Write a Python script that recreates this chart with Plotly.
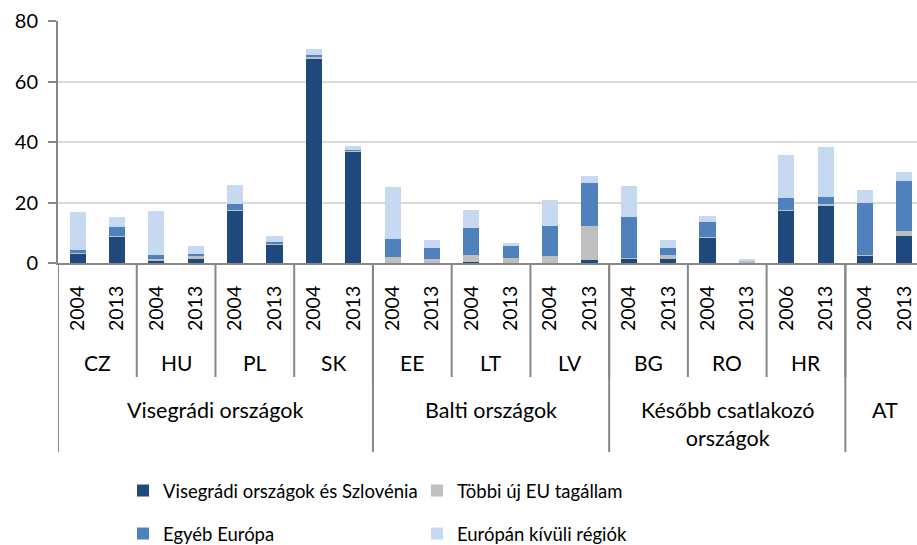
import plotly.graph_objects as go

# ---- data ----
years = ["2004", "2013", "2004", "2013", "2004", "2013", "2004", "2013",
         "2004", "2013", "2004", "2013", "2004", "2013",
         "2004", "2013", "2004", "2013", "2006", "2013",
         "2004", "2013"]
countries = ["CZ", "HU", "PL", "SK", "EE", "LT", "LV", "BG", "RO", "HR", ""]
groups = ["Visegrádi országok", "Balti országok", "Később csatlakozó<br>országok", "AT"]
group_sizes = [4, 3, 3, 1]  # number of countries per group

series_names = ["Visegrádi országok és Szlovénia", "Többi új EU tagállam",
                "Egyéb Európa", "Európán kívüli régiók"]
visegradi = [3.1, 8.9, 0.55, 1.2, 17.4, 5.8, 67.4, 36.9,
             0.0, 0.0, 0.45, 0.0, 0.0, 1.0,
             1.5, 1.3, 8.4, 0.2, 17.2, 19.0,
             2.6, 8.8]
tobbi_eu = [0.1, 0.1, 0.9, 1.0, 0.1, 0.7, 0.7, 0.3,
            1.9, 1.2, 2.1, 1.5, 2.4, 11.3,
            0.2, 1.3, 0.1, 0.5, 0.4, 0.5,
            0.1, 1.9]
egyeb_europa = [1.1, 3.0, 1.35, 0.9, 1.85, 0.5, 0.8, 0.1,
                5.9, 3.6, 9.1, 4.0, 9.8, 14.3,
                13.5, 2.2, 5.0, 0.2, 4.0, 2.4,
                17.2, 16.3]
europan_kivul = [12.4, 3.1, 14.5, 2.6, 6.3, 2.0, 1.8, 1.5,
                 17.4, 2.8, 5.8, 1.2, 8.7, 2.1,
                 10.3, 2.9, 2.2, 0.5, 14.2, 16.5,
                 4.3, 3.0]
y_ticks = [0, 20, 40, 60, 80]

colors = ["#1F497D", "#BFBFBF", "#4F81BD", "#C6D9F1"]
FONT = "Lato, Carlito, Calibri, 'Open Sans', sans-serif"

# category keys (one per bar)
cats = [f"{countries[i // 2]}_{i}" for i in range(len(years))]

fig = go.Figure()
all_series = [visegradi, tobbi_eu, egyeb_europa, europan_kivul]
legend_ids = ["legend", "legend", "legend2", "legend2"]
for name, vals, col, lg in zip(series_names, all_series, colors, legend_ids):
    fig.add_trace(go.Bar(x=cats, y=vals, name=name, marker=dict(color=col, line=dict(width=0)),
                         width=0.41, legend=lg))

# pixel geometry helpers
W, H = 917, 545
ml, mr, mt, mb = 58, 0, 21, 282
ph = H - mt - mb


def py(pix):  # pixel y -> paper y
    return (H - mb - pix) / ph


axis_col = "#868686"
shapes = []
# country dividers
for k in range(1, len(countries)):
    xb = 2 * k - 0.5
    shapes.append(dict(type="line", xref="x", yref="paper", x0=xb, x1=xb,
                       y0=0, y1=py(377), line=dict(color=axis_col, width=2)))
# group dividers (incl. left edge)
acc = 0
bounds = [-0.5]
for s in group_sizes[:-1]:
    acc += s * 2
    bounds.append(acc - 0.5)
for xb in bounds:
    shapes.append(dict(type="line", xref="x", yref="paper", x0=xb, x1=xb,
                       y0=0, y1=py(452), line=dict(color=axis_col, width=2)))

annotations = []
for k, c in enumerate(countries):
    if c:
        annotations.append(dict(x=2 * k + 0.5, y=py(362), xref="x", yref="paper", text=c,
                                showarrow=False, xanchor="center", yanchor="middle",
                                font=dict(family=FONT, size=21, color="black")))
start = 0
for g, s in zip(groups, group_sizes):
    center = start + s - 0.5
    annotations.append(dict(x=center, y=py(395), xref="x", yref="paper", text=g,
                            showarrow=False, xanchor="center", yanchor="top",
                            font=dict(family=FONT, size=21.5, color="black")))
    start += 2 * s

leg_x = (123 - ml) / (W - ml - mr)
fig.update_layout(
    width=W, height=H,
    margin=dict(l=ml, r=mr, t=mt, b=mb, pad=0, autoexpand=False),
    barmode="stack",
    plot_bgcolor="white", paper_bgcolor="white",
    font=dict(family=FONT, size=20, color="black"),
    shapes=shapes, annotations=annotations,
    legend=dict(orientation="h", x=leg_x, xanchor="left",
                y=py(491), yanchor="middle", entrywidth=249, entrywidthmode="pixels",
                font=dict(family=FONT, size=18.5, color="black"), traceorder="normal",
                bgcolor="rgba(0,0,0,0)"),
    legend2=dict(orientation="h", x=leg_x, xanchor="left",
                 y=py(534), yanchor="middle", entrywidth=249, entrywidthmode="pixels",
                 font=dict(family=FONT, size=18.5, color="black"), traceorder="normal",
                 bgcolor="rgba(0,0,0,0)"),
    bargap=0.59,
)
fig.update_xaxes(type="category", categoryorder="array", categoryarray=cats,
                 tickmode="array", tickvals=cats, ticktext=years, tickangle=-90,
                 range=[-0.5, 21.32], showline=True, linecolor=axis_col, linewidth=2,
                 ticks="", showgrid=False, ticklabelstandoff=13,
                 tickfont=dict(family=FONT, size=19.5, color="black"))
fig.update_yaxes(range=[0, 80], tickvals=y_ticks, showgrid=True, gridcolor="#D9D9D9",
                 gridwidth=1.5, showline=True, linecolor=axis_col, linewidth=2,
                 ticks="outside", ticklen=8, tickcolor=axis_col, tickwidth=1.5,
                 ticklabelstandoff=6, zeroline=False,
                 tickfont=dict(family=FONT, size=20, color="black"))

fig.write_html("out.html", config={"displayModeBar": False},
               post_script="document.body.style.margin='0';document.body.style.overflow='hidden';")
